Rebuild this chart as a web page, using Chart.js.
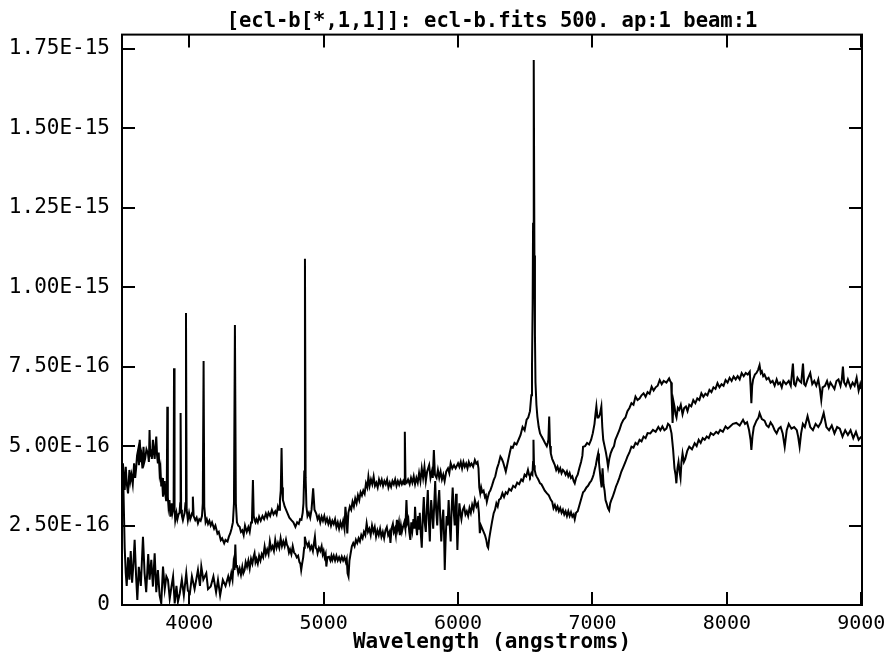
<!DOCTYPE html>
<html>
<head>
<meta charset="utf-8">
<title>ecl-b spectrum</title>
<script src="https://cdn.jsdelivr.net/npm/chart.js@4.4.1/dist/chart.umd.min.js"></script>
<style>
  html, body { margin: 0; padding: 0; background: #fff; }
  canvas { display: block; }
</style>
</head>
<body>
<canvas id="grafico" width="887" height="658"></canvas>
<script>
// flux values are in units of 1e-16 (erg/cm2/s/A), wavelengths in angstroms
const FLUX_UNIT = 1e-16;

const titulo = '[ecl-b[*,1,1]]: ecl-b.fits 500. ap:1 beam:1';
const xTitulo = 'Wavelength (angstroms)';
const xTicks = [4000, 5000, 6000, 7000, 8000, 9000];
const yTicks = [0, 2.5, 5, 7.5, 10, 12.5, 15, 17.5];

// upper spectrum (emission lines) as [wavelength, flux]
const espectroAlto = [
  [3500,4.4],[3507,4.46],[3515,3.9],[3520,3.62],[3528,4.35],[3535,3.83],[3545,3.51],[3555,4.25],[3562,3.9],[3570,4.1],[3580,3.8],[3590,4.46],[3598,4.0],
  [3605,4.3],[3612,4.7],[3620,4.88],[3626,4.4],[3632,5.2],[3640,4.5],[3645,4.67],[3652,4.3],[3660,4.98],[3666,4.5],[3672,4.6],[3682,4.9],[3693,4.77],
  [3700,4.5],[3705,5.51],[3710,4.7],[3715,4.9],[3722,4.6],[3730,5.2],[3737,4.8],[3743,4.6],[3749,5.0],[3755,5.3],[3761,4.7],[3767,4.46],[3773,4.8],
  [3780,4.14],[3786,4.3],[3792,3.73],[3798,4.0],[3805,3.41],[3811,3.6],[3817,3.9],[3822,3.5],[3828,3.3],[3833,3.5],[3837,6.24],[3841,3.4],[3846,3.09],
  [3853,3.3],[3860,2.78],[3866,3.0],[3870,3.2],[3875,2.9],[3879,2.9],[3884,3.1],[3887,7.45],[3891,3.0],[3896,2.67],[3905,2.9],[3912,2.7],[3920,2.85],
  [3928,2.9],[3933,3.2],[3936,6.04],[3940,3.0],[3946,2.8],[3953,2.67],[3960,2.8],[3966,2.9],[3972,3.2],[3976,9.19],[3981,3.0],[3990,2.67],[3999,2.9],
  [4008,2.7],[4016,2.8],[4022,2.9],[4027,3.41],[4033,2.8],[4045,2.67],[4055,2.75],[4065,2.57],[4075,2.7],[4085,2.65],[4095,2.8],[4101,3.2],[4107,7.68],
  [4112,3.1],[4122,2.6],[4131,2.7],[4140,2.55],[4150,2.65],[4160,2.5],[4170,2.6],[4185,2.4],[4195,2.5],[4210,2.25],[4220,2.3],[4235,2.04],[4245,2.1],
  [4260,1.94],[4270,2.05],[4285,2.0],[4295,2.15],[4305,2.25],[4315,2.4],[4325,2.6],[4333,3.2],[4340,8.81],[4347,3.2],[4355,2.6],[4365,2.5],[4375,2.46],
  [4385,2.3],[4395,2.35],[4405,2.2],[4415,2.5],[4428,2.3],[4440,2.45],[4450,2.3],[4460,2.6],[4467,2.7],[4474,3.93],[4480,2.8],[4486,2.67],[4493,2.6],
  [4500,2.7],[4510,2.6],[4520,2.78],[4532,2.65],[4545,2.8],[4557,2.7],[4570,2.88],[4580,2.75],[4590,2.9],[4602,2.8],[4615,2.99],[4627,2.85],[4640,2.95],
  [4650,2.85],[4660,3.1],[4668,3.0],[4675,3.3],[4681,3.6],[4687,4.94],[4692,3.7],[4697,3.3],[4704,3.2],[4710,3.1],[4720,3.0],[4730,2.9],[4745,2.75],
  [4760,2.67],[4775,2.6],[4790,2.46],[4803,2.6],[4815,2.55],[4825,2.7],[4835,2.68],[4844,2.9],[4850,3.2],[4856,4.2],[4861,10.9],[4866,4.0],[4872,3.1],
  [4880,2.8],[4890,2.9],[4900,2.75],[4910,3.0],[4922,3.67],[4932,3.0],[4945,2.88],[4955,2.7],[4965,2.8],[4975,2.6],[4985,2.78],[4995,2.65],[5005,2.8],
  [5015,2.6],[5025,2.72],[5035,2.55],[5045,2.7],[5055,2.5],[5065,2.65],[5075,2.55],[5085,2.7],[5095,2.45],[5105,2.6],[5115,2.4],[5125,2.6],[5135,2.45],
  [5145,2.65],[5155,2.4],[5162,3.09],[5170,2.7],[5176,2.25],[5184,2.9],[5195,3.1],[5205,3.0],[5215,3.25],[5225,3.1],[5235,3.35],[5245,3.2],[5255,3.45],
  [5265,3.3],[5275,3.55],[5285,3.45],[5295,3.6],[5305,3.5],[5315,3.83],[5325,3.7],[5333,4.04],[5342,3.75],[5352,3.95],[5362,3.8],[5372,4.04],[5382,3.75],
  [5392,3.85],[5402,3.7],[5412,3.95],[5422,3.8],[5432,3.94],[5442,3.75],[5452,3.9],[5462,3.8],[5472,3.95],[5482,3.7],[5492,3.85],[5502,3.72],[5512,3.9],
  [5522,3.8],[5532,3.95],[5542,3.75],[5552,3.9],[5562,3.78],[5572,3.92],[5582,3.8],[5592,3.9],[5600,3.8],[5604,5.45],[5609,3.9],[5618,3.85],[5628,3.95],
  [5640,3.8],[5650,4.0],[5660,3.85],[5670,4.05],[5680,3.8],[5690,4.0],[5700,3.85],[5710,4.15],[5720,3.9],[5730,4.3],[5740,4.0],[5750,4.35],[5760,3.9],
  [5770,4.2],[5785,4.4],[5795,4.0],[5805,4.2],[5812,4.0],[5820,4.88],[5828,4.1],[5840,4.0],[5850,4.25],[5860,4.0],[5870,4.2],[5880,3.95],[5890,4.1],
  [5900,3.9],[5912,4.2],[5925,4.3],[5935,4.15],[5945,4.46],[5957,4.3],[5970,4.4],[5982,4.3],[6000,4.46],[6010,4.35],[6020,4.5],[6030,4.3],[6040,4.5],
  [6050,4.35],[6060,4.45],[6070,4.3],[6080,4.5],[6090,4.38],[6100,4.45],[6112,4.35],[6125,4.56],[6135,4.45],[6145,4.5],[6152,4.3],[6158,3.7],[6165,3.52],
  [6172,3.7],[6180,3.55],[6190,3.6],[6200,3.4],[6207,3.45],[6214,3.25],[6222,3.4],[6232,3.55],[6240,3.6],[6252,3.75],[6265,3.93],[6277,4.05],[6290,4.3],
  [6302,4.45],[6315,4.67],[6325,4.6],[6335,4.5],[6345,4.35],[6355,4.2],[6365,4.4],[6375,4.6],[6385,4.8],[6395,4.98],[6407,4.95],[6420,5.1],[6435,5.05],
  [6450,5.2],[6465,5.35],[6480,5.6],[6495,5.5],[6510,5.83],[6522,5.9],[6535,6.1],[6545,6.6],[6550,7.5],[6555,9.5],[6558,12],[6563,17.15],[6568,11],
  [6572,8.5],[6576,7.0],[6583,6.3],[6590,5.93],[6600,5.6],[6610,5.4],[6622,5.3],[6635,5.2],[6647,5.1],[6660,5.0],[6667,5.1],[6672,5.2],[6678,5.93],
  [6684,5.0],[6690,4.77],[6700,4.6],[6710,4.5],[6720,4.4],[6730,4.25],[6740,4.35],[6750,4.2],[6760,4.3],[6770,4.15],[6780,4.25],[6790,4.2],[6800,4.1],
  [6810,4.2],[6820,4.05],[6830,4.15],[6840,4.0],[6850,4.05],[6860,3.9],[6868,3.83],[6878,4.0],[6890,4.1],[6902,4.3],[6915,4.5],[6925,4.7],[6930,4.98],
  [6945,5.0],[6960,5.1],[6975,5.05],[6990,5.2],[7002,5.4],[7015,5.7],[7022,6.0],[7029,6.25],[7037,5.9],[7045,5.9],[7055,6.0],[7066,6.25],[7073,5.6],
  [7080,5.2],[7090,5.0],[7100,4.8],[7108,4.6],[7116,4.35],[7125,4.6],[7135,4.77],[7147,4.9],[7160,5.0],[7170,5.2],[7180,5.3],[7190,5.4],[7200,5.5],
  [7215,5.7],[7230,5.83],[7245,5.9],[7260,6.1],[7275,6.2],[7290,6.35],[7305,6.3],[7320,6.56],[7335,6.45],[7350,6.5],[7365,6.6],[7380,6.66],[7395,6.55],
  [7410,6.7],[7425,6.65],[7440,6.87],[7455,6.75],[7470,6.85],[7485,6.9],[7500,7.08],[7515,6.95],[7530,7.05],[7550,7.0],[7570,7.13],[7578,7.05],[7585,7.0],
  [7590,6.4],[7596,5.73],[7603,6.4],[7610,6.25],[7618,6.0],[7625,5.9],[7635,6.2],[7645,6.14],[7657,6.3],[7670,6.0],[7682,6.2],[7695,6.25],[7707,6.1],
  [7720,6.3],[7735,6.25],[7750,6.45],[7765,6.35],[7780,6.5],[7795,6.45],[7810,6.66],[7825,6.55],[7840,6.65],[7855,6.6],[7870,6.77],[7885,6.7],[7900,6.85],
  [7915,6.8],[7930,6.98],[7945,6.85],[7960,6.95],[7975,6.9],[7990,7.08],[8005,7.0],[8020,7.15],[8035,7.05],[8050,7.19],[8065,7.1],[8080,7.2],[8095,7.1],
  [8110,7.3],[8125,7.2],[8140,7.3],[8155,7.25],[8170,7.34],[8176,6.9],[8182,6.35],[8188,6.9],[8195,7.1],[8208,7.25],[8220,7.3],[8232,7.4],[8243,7.55],
  [8252,7.3],[8260,7.35],[8270,7.2],[8280,7.25],[8295,7.1],[8310,7.15],[8325,7.0],[8340,7.05],[8355,6.9],[8370,7.1],[8382,6.95],[8395,7.0],[8408,6.85],
  [8420,7.05],[8440,6.95],[8460,7.05],[8475,6.9],[8491,7.6],[8500,6.95],[8510,6.9],[8525,7.15],[8540,7.05],[8553,7.0],[8566,7.6],[8575,6.95],[8585,6.9],
  [8600,7.1],[8620,7.3],[8635,6.95],[8650,7.05],[8665,6.9],[8680,7.1],[8692,6.8],[8702,6.45],[8712,6.85],[8730,6.9],[8745,7.05],[8758,6.85],[8770,7.0],
  [8785,6.9],[8800,6.8],[8815,7.05],[8830,7.1],[8845,6.9],[8855,7.1],[8863,7.5],[8872,7.0],[8885,6.9],[8900,7.1],[8920,6.85],[8935,7.0],[8950,6.9],
  [8965,7.15],[8980,6.75],[8992,6.95],[9000,6.8]
];

// lower spectrum (continuum) as [wavelength, flux]
const espectroBajo = [
  [3500,4.4],[3510,3.8],[3520,1.8],[3528,1.0],[3535,0.6],[3545,1.5],[3555,0.8],[3565,1.7],[3575,0.7],[3585,1.3],[3594,2.05],[3605,0.9],[3614,0.16],
  [3625,1.2],[3640,0.6],[3656,2.15],[3668,1.0],[3680,0.4],[3695,1.6],[3705,0.8],[3718,1.42],[3730,0.58],[3743,1.63],[3755,0.4],[3767,1.1],[3780,0.3],
  [3792,0.05],[3805,1.21],[3818,0.5],[3830,0.9],[3842,0.79],[3855,0.2],[3868,0.58],[3880,0.9],[3892,0.05],[3905,0.6],[3916,0.1],[3930,0.37],[3945,0.8],
  [3960,0.3],[3978,1.0],[3990,0.45],[4005,0.37],[4020,0.9],[4040,0.5],[4065,1.1],[4080,0.6],[4090,1.21],[4105,0.8],[4127,1.0],[4140,0.5],[4160,0.58],
  [4180,0.9],[4200,0.4],[4214,0.79],[4230,0.3],[4250,0.79],[4270,0.6],[4290,0.9],[4300,0.7],[4313,1.0],[4322,0.8],[4330,1.3],[4337,1.1],[4343,1.9],
  [4349,1.2],[4355,1.25],[4365,1.0],[4375,1.15],[4385,0.95],[4395,1.2],[4403,1.0],[4412,1.1],[4420,1.35],[4430,1.2],[4440,1.4],[4450,1.15],[4460,1.45],
  [4470,1.3],[4478,1.5],[4486,1.63],[4493,1.35],[4500,1.45],[4510,1.3],[4520,1.55],[4530,1.4],[4540,1.6],[4550,1.5],[4561,1.84],[4570,1.6],[4580,1.75],
  [4590,1.6],[4600,2.0],[4610,1.75],[4620,1.85],[4630,1.7],[4640,2.05],[4650,1.8],[4660,1.95],[4670,1.8],[4680,2.1],[4690,1.85],[4700,2.0],[4710,1.85],
  [4720,2.05],[4727,1.9],[4734,1.84],[4742,1.65],[4750,1.75],[4760,1.6],[4770,1.85],[4780,1.65],[4790,1.6],[4800,1.5],[4810,1.55],[4820,1.35],[4827,1.3],
  [4833,1.1],[4840,1.3],[4848,1.5],[4855,1.8],[4860,2.15],[4867,2.0],[4873,1.95],[4882,1.85],[4890,1.95],[4900,1.75],[4910,1.85],[4920,1.7],[4928,1.95],
  [4935,2.15],[4942,1.8],[4950,1.75],[4955,1.63],[4965,1.8],[4975,1.7],[4985,1.85],[4993,1.6],[5000,1.7],[5008,1.5],[5015,1.6],[5020,1.21],[5028,1.5],
  [5040,1.52],[5050,1.4],[5058,1.55],[5065,1.42],[5075,1.55],[5085,1.4],[5095,1.55],[5105,1.4],[5115,1.5],[5125,1.38],[5135,1.52],[5145,1.4],[5155,1.5],
  [5165,1.35],[5172,1.45],[5178,1.0],[5185,0.9],[5192,1.4],[5200,1.6],[5210,1.85],[5220,1.95],[5230,1.85],[5240,2.05],[5250,1.95],[5260,2.1],[5270,2.0],
  [5280,2.2],[5290,2.1],[5300,2.3],[5310,2.2],[5320,2.57],[5330,2.3],[5340,2.4],[5350,2.2],[5360,2.5],[5370,2.3],[5380,2.45],[5390,2.15],[5400,2.35],
  [5410,2.2],[5420,2.4],[5430,2.15],[5440,2.3],[5450,2.1],[5460,2.35],[5470,2.45],[5480,2.2],[5490,2.3],[5497,1.95],[5505,2.4],[5515,2.55],[5522,2.3],
  [5530,2.4],[5537,2.2],[5545,2.68],[5552,2.4],[5560,2.6],[5567,2.2],[5575,2.5],[5582,2.3],[5590,2.45],[5600,2.6],[5608,2.4],[5616,3.3],[5623,2.6],
  [5630,2.7],[5637,2.3],[5645,2.05],[5652,2.6],[5660,2.35],[5668,2.7],[5675,2.4],[5680,3.09],[5688,2.5],[5695,2.2],[5703,2.8],[5710,2.4],[5715,2.9],
  [5722,2.3],[5730,1.8],[5737,2.7],[5745,3.4],[5752,2.6],[5760,2.3],[5767,3.0],[5775,3.62],[5782,2.7],[5790,2.0],[5795,2.8],[5800,3.3],[5807,2.9],
  [5815,2.4],[5822,3.1],[5830,3.9],[5837,3.0],[5845,2.5],[5852,3.2],[5860,3.62],[5867,2.8],[5875,2.0],[5882,2.6],[5890,3.0],[5896,2.2],[5901,1.1],
  [5907,2.0],[5915,2.8],[5922,2.5],[5930,3.3],[5937,2.6],[5945,2.0],[5952,3.0],[5960,3.7],[5967,3.0],[5975,2.5],[5980,3.0],[5985,3.5],[5990,2.6],
  [5995,1.73],[6002,2.6],[6010,3.2],[6017,2.9],[6025,2.7],[6035,3.0],[6045,3.09],[6055,2.85],[6065,2.95],[6075,2.8],[6085,3.05],[6095,2.9],[6105,3.15],
  [6115,3.0],[6125,3.3],[6137,3.1],[6148,3.2],[6155,2.9],[6162,2.26],[6170,2.5],[6180,2.4],[6190,2.3],[6200,2.2],[6210,2.05],[6218,1.85],[6224,1.8],
  [6232,2.1],[6240,2.3],[6252,2.6],[6265,2.89],[6275,3.0],[6285,3.2],[6295,3.1],[6305,3.31],[6317,3.35],[6330,3.52],[6342,3.4],[6355,3.55],[6367,3.5],
  [6380,3.65],[6395,3.6],[6410,3.75],[6425,3.7],[6440,3.85],[6455,3.8],[6470,3.95],[6482,3.9],[6495,4.1],[6507,4.05],[6520,4.25],[6528,4.1],[6535,4.04],
  [6545,4.15],[6553,4.1],[6558,4.5],[6561,5.2],[6565,4.4],[6570,4.25],[6578,4.1],[6585,4.04],[6597,3.95],[6610,3.83],[6620,3.8],[6630,3.72],[6645,3.6],
  [6660,3.52],[6675,3.45],[6690,3.31],[6700,3.25],[6710,3.05],[6720,3.15],[6730,3.0],[6740,3.1],[6750,2.95],[6760,3.05],[6770,2.9],[6780,3.0],[6790,2.85],
  [6800,2.95],[6810,2.8],[6820,2.95],[6830,2.8],[6840,2.92],[6850,2.78],[6860,2.85],[6868,2.7],[6878,2.9],[6890,2.95],[6900,3.1],[6910,3.25],[6920,3.4],
  [6930,3.55],[6942,3.6],[6955,3.7],[6967,3.75],[6980,3.85],[6990,3.9],[7000,4.0],[7008,4.1],[7016,4.25],[7025,4.4],[7033,4.6],[7042,4.77],[7048,4.5],
  [7055,4.2],[7062,3.9],[7068,3.7],[7075,4.3],[7082,3.8],[7090,3.6],[7097,3.3],[7105,3.2],[7115,3.05],[7124,2.98],[7132,3.2],[7140,3.3],[7150,3.4],
  [7162,3.55],[7175,3.73],[7187,3.85],[7200,4.0],[7215,4.2],[7230,4.35],[7245,4.5],[7260,4.67],[7275,4.8],[7290,4.98],[7305,4.95],[7320,5.1],[7335,5.05],
  [7350,5.2],[7365,5.15],[7380,5.3],[7395,5.25],[7410,5.41],[7430,5.4],[7450,5.51],[7470,5.45],[7490,5.6],[7505,5.5],[7520,5.62],[7535,5.5],[7550,5.55],
  [7562,5.7],[7575,5.65],[7588,5.4],[7600,4.88],[7610,4.3],[7618,4.1],[7624,3.83],[7632,4.3],[7640,4.5],[7648,4.2],[7655,4.0],[7662,4.5],[7670,4.77],
  [7680,4.5],[7690,4.6],[7705,4.85],[7720,4.98],[7740,4.9],[7760,5.09],[7775,5.0],[7790,5.2],[7805,5.1],[7820,5.25],[7835,5.2],[7850,5.3],[7865,5.25],
  [7880,5.41],[7900,5.35],[7920,5.45],[7935,5.4],[7950,5.51],[7970,5.45],[7990,5.62],[8005,5.55],[8020,5.6],[8045,5.7],[8070,5.73],[8095,5.65],[8120,5.83],
  [8135,5.7],[8150,5.75],[8165,5.5],[8176,5.2],[8182,4.88],[8190,5.3],[8200,5.6],[8220,5.8],[8235,5.9],[8243,6.04],[8260,5.85],[8280,5.8],[8295,5.65],
  [8310,5.6],[8325,5.75],[8340,5.65],[8355,5.5],[8370,5.4],[8385,5.55],[8400,5.6],[8415,5.4],[8430,4.98],[8445,5.5],[8460,5.7],[8480,5.55],[8500,5.6],
  [8520,5.5],[8530,5.3],[8541,4.98],[8552,5.4],[8565,5.7],[8580,5.6],[8600,5.94],[8620,5.6],[8640,5.5],[8660,5.7],[8680,5.6],[8700,5.75],[8720,6.04],
  [8740,5.6],[8760,5.5],[8780,5.65],[8800,5.4],[8820,5.6],[8840,5.55],[8860,5.3],[8880,5.5],[8900,5.35],[8920,5.5],[8940,5.25],[8960,5.45],[8980,5.2],
  [9000,5.3]
];

const TICK_LEN = 13;
const FUENTE = "'DejaVu Sans Mono', 'Liberation Mono', monospace";

const aPuntos = serie => serie.map(p => ({ x: p[0], y: p[1] }));

// inward ticks on all four sides + box frame, like the IRAF plot
const marcoPlugin = {
    id: 'marco',
    afterDatasetsDraw(chart) {
        const { ctx, chartArea: a, scales: { x, y } } = chart;
        ctx.save();
        ctx.strokeStyle = '#000';
        ctx.lineWidth = 2;
        ctx.strokeRect(a.left, a.top, a.right - a.left, a.bottom - a.top);
        ctx.beginPath();
        x.ticks.forEach(t => {
            const px = Math.round(x.getPixelForValue(t.value));
            ctx.moveTo(px, a.bottom); ctx.lineTo(px, a.bottom - TICK_LEN);
            ctx.moveTo(px, a.top); ctx.lineTo(px, a.top + TICK_LEN);
        });
        y.ticks.forEach(t => {
            const py = Math.round(y.getPixelForValue(t.value));
            ctx.moveTo(a.left, py); ctx.lineTo(a.left + TICK_LEN, py);
            ctx.moveTo(a.right, py); ctx.lineTo(a.right - TICK_LEN, py);
        });
        ctx.stroke();
        ctx.restore();
    }
};

const formatoFlujo = v => {
    if (v === 0) return '0';
    return (v * FLUX_UNIT).toExponential(2).toUpperCase();
};

const ctx = document.getElementById('grafico').getContext('2d');

window.graficaEspectro = new Chart(ctx, {
    type: 'line',
    data: {
        datasets: [
            { label: 'ap1', data: aPuntos(espectroAlto), borderColor: '#000', borderWidth: 2, pointRadius: 0, tension: 0 },
            { label: 'ap2', data: aPuntos(espectroBajo), borderColor: '#000', borderWidth: 2, pointRadius: 0, tension: 0 }
        ]
    },
    options: {
        responsive: false,
        animation: false,
        layout: { padding: { left: 0, right: 25, top: 0, bottom: 0 } },
        plugins: {
            legend: { display: false },
            tooltip: { enabled: false },
            title: {
                display: true,
                text: titulo,
                fullSize: false,
                color: '#000',
                font: { family: FUENTE, size: 20.5, weight: 'bold', lineHeight: 1.2 },
                padding: { top: 9, bottom: 1 }
            }
        },
        scales: {
            x: {
                type: 'linear',
                min: 3500,
                max: 9005,
                grid: { display: false, drawTicks: false },
                border: { display: false },
                afterBuildTicks: s => { s.ticks = xTicks.map(v => ({ value: v })); },
                afterFit: s => { s.height = 53; s.paddingLeft = 0; s.paddingRight = 0; },
                ticks: {
                    color: '#000',
                    padding: 7,
                    maxRotation: 0,
                    font: { family: FUENTE, size: 20 },
                    callback: v => String(v)
                },
                title: {
                    display: true,
                    text: xTitulo,
                    color: '#000',
                    font: { family: FUENTE, size: 21, weight: 'bold', lineHeight: 1.2 },
                    padding: { top: 0, bottom: 3 }
                }
            },
            y: {
                min: 0,
                max: 17.95,
                grid: { display: false, drawTicks: false },
                border: { display: false },
                afterBuildTicks: s => { s.ticks = yTicks.map(v => ({ value: v })); },
                afterFit: s => { s.width = 122; },
                ticks: {
                    color: '#000',
                    padding: 12,
                    font: { family: FUENTE, size: 21 },
                    callback: formatoFlujo
                }
            }
        }
    },
    plugins: [marcoPlugin]
});
</script>
</body>
</html>
